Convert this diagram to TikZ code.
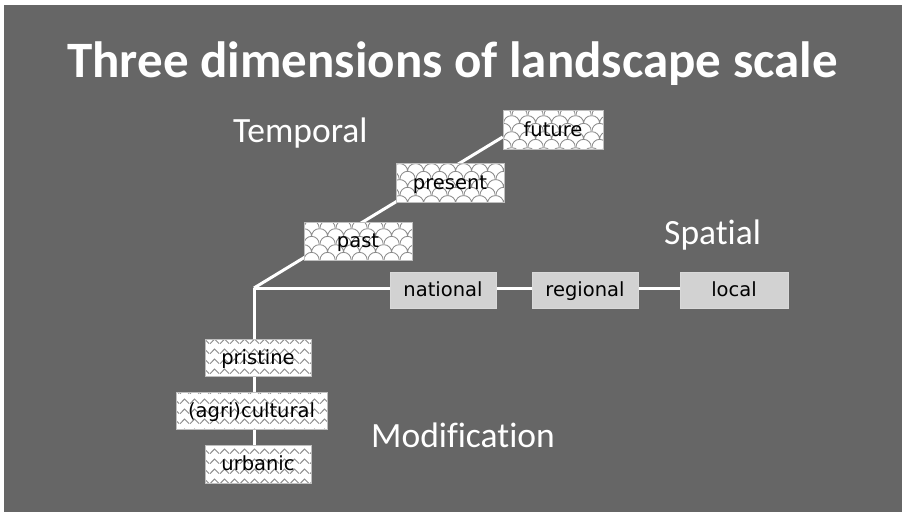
\documentclass[tikz,border=0pt]{standalone}
\usepackage{fontspec}
\setmainfont{Carlito}[Ligatures=NoCommon]
\newfontfamily\boxfont{DejaVu Sans}
\usetikzlibrary{patterns,calc}
\pgfdeclarelayer{bg}
\pgfdeclarelayer{lines}
\pgfsetlayers{bg,lines,main}
\pgfdeclarepatternformonly{scales}{\pgfqpoint{0pt}{0pt}}{\pgfqpoint{16pt}{16pt}}{\pgfqpoint{16pt}{16pt}}{%
  \pgfsetlinewidth{0.9pt}%
  \pgfpathmoveto{\pgfqpoint{0pt}{0pt}}\pgfpatharc{180}{0}{8pt}%
  \pgfpathmoveto{\pgfqpoint{-8pt}{8pt}}\pgfpatharc{180}{0}{8pt}%
  \pgfpathmoveto{\pgfqpoint{8pt}{8pt}}\pgfpatharc{180}{0}{8pt}%
  \pgfusepath{stroke}}
\pgfdeclarepatternformonly{zigzag}{\pgfqpoint{0pt}{0pt}}{\pgfqpoint{10pt}{10pt}}{\pgfqpoint{10pt}{10pt}}{%
  \pgfsetlinewidth{1pt}%
  \pgfpathmoveto{\pgfqpoint{0pt}{2.5pt}}\pgfpathlineto{\pgfqpoint{5pt}{7.5pt}}\pgfpathlineto{\pgfqpoint{10pt}{2.5pt}}%
  \pgfusepath{stroke}}
\definecolor{bggray}{RGB}{102,102,102}
\definecolor{patgray}{RGB}{140,140,140}
\definecolor{spatfill}{RGB}{210,210,210}
\tikzset{
  basebox/.style={draw=black!25, line width=0.6pt, inner sep=0pt, minimum height=38pt,
    font=\boxfont\fontsize{19.5}{21}\selectfont, text=black, text height=14pt, text depth=1pt},
  timebox/.style={basebox, preaction={fill=white}, pattern=scales, pattern color=patgray},
  spacebox/.style={basebox, fill=spatfill, draw=white!85!black},
  modbox/.style={basebox, preaction={fill=white}, pattern=zigzag, pattern color=patgray},
  dimlabel/.style={anchor=base west, inner sep=0pt, text=white, font=\fontsize{35.5}{40}\selectfont},
  link/.style={draw=white, line width=3pt}
}
\begin{document}
\begin{tikzpicture}[x=1pt,y=-1pt]
\useasboundingbox (0,0) rectangle (905,515);
\begin{pgfonlayer}{bg}
\fill[white] (0,0) rectangle (905,515);
\fill[bggray] (4,5) rectangle (902,512);
\end{pgfonlayer}
\node[anchor=base, inner sep=0pt, text=white, font=\bfseries\fontsize{51}{60}\selectfont] (title) at (452.5,77) {Three dimensions of landscape scale};
\node[dimlabel] (temporal) at (233,142) {Temporal};
\node[dimlabel] (spatial) at (664,244) {Spatial};
\node[dimlabel] (modification) at (371,447) {Modification};
\node[timebox, minimum width=100pt, minimum height=39pt] (future) at (553,129.5) {future};
\node[timebox, minimum width=108pt, minimum height=39pt] (present) at (450,182.5) {present};
\node[timebox, minimum width=108pt] (past) at (358,241) {past};
\node[spacebox, minimum width=106pt, minimum height=36pt] (national) at (443,290) {national};
\node[spacebox, minimum width=106pt, minimum height=36pt] (regional) at (585,290) {regional};
\node[spacebox, minimum width=108pt, minimum height=36pt] (local) at (734,290) {local};
\node[modbox, minimum width=106pt, minimum height=37pt] (pristine) at (258,357.5) {pristine};
\node[modbox, minimum width=151pt, minimum height=37pt] (cultural) at (251.5,410.5) {(agri)cultural};
\node[modbox, minimum width=106pt] (urbanic) at (258,464) {urbanic};
\coordinate (J) at (254,288);
\coordinate (fend) at ($(future.west)+(0,7.5)$);
\begin{pgfonlayer}{lines}
\draw[link] (J) -- (fend);
\draw[link] (J) -- (J -| local.west);
\draw[link] (J) -- (J |- urbanic.north);
\end{pgfonlayer}
\end{tikzpicture}
\end{document}
